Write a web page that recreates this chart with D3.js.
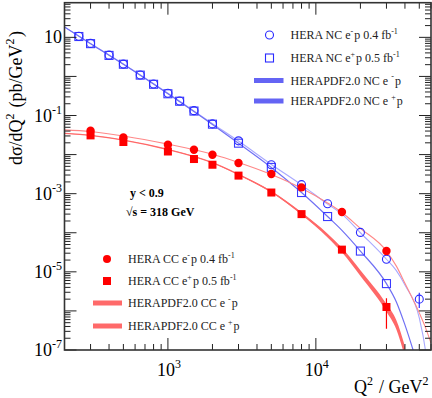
<!DOCTYPE html>
<html>
<head>
<meta charset="utf-8">
<script src="https://cdn.jsdelivr.net/npm/d3@7"></script>
<style>
  body { margin: 0; background: #fff; }
  svg { display: block; font-family: "Liberation Serif", "Times New Roman", serif; }
</style>
</head>
<body>
<div id="chart"></div>
<script>
// HERA NC / CC data
var ncEmQ2 = [250, 300, 400, 500, 650, 800, 1000, 1200, 1500, 2000, 3000, 5000, 8000, 12000, 20000, 30000, 50000];
var ncEmVal = [10.7, 7.0, 3.5, 2.07, 1.09, 0.64, 0.37, 0.236, 0.133, 0.061, 0.0225, 0.0055, 0.0017, 5.5e-4, 1.02e-4, 2.1e-5, 2.0e-6];
var ncEpQ2 = [250, 300, 400, 500, 650, 800, 1000, 1200, 1500, 2000, 3000, 5000, 8000, 12000, 20000, 30000];
var ncEpVal = [10.5, 6.9, 3.45, 2.05, 1.08, 0.63, 0.36, 0.232, 0.13, 0.06, 0.0196, 0.0047, 0.00107, 2.6e-4, 3.4e-5, 5.0e-6];
var ccQ2 = [300, 500, 1000, 1500, 2000, 3000, 5000, 8000, 15000, 30000];
var ccEmVal = [0.041, 0.0273, 0.0178, 0.0133, 0.0099, 0.0061, 0.0032, 0.00145, 3.4e-4, 3.4e-5];
var ccEpVal = [0.031, 0.021, 0.012, 0.0077, 0.0055, 0.0029, 0.00107, 3.0e-4, 3.7e-5, 1.26e-6];
// visible error bars (low, high)
var errBars = [
  {set: "ncEm", q2: 50000, lo: 1.19e-6, hi: 2.9e-6},
  {set: "ccEp", q2: 30000, lo: 3.5e-7, hi: 2.1e-6}
];

// HERAPDF2.0 predictions
var thQ2 = [200, 300, 500, 1000, 2000, 3000, 5000, 8000, 12000, 15000, 20000, 30000, 35000, 40000, 50000, 55000, 60000];
var thNcEm = [18.5, 7.0, 2.07, 0.37, 0.062, 0.0222, 0.0056, 0.00168, 5.4e-4, 3.0e-4, 1.0e-4, 2.1e-5, 1.07e-5, 4.6e-6, 6.6e-7, 1.0e-7, 5e-9];
var thNcEp = [18.3, 6.9, 2.04, 0.36, 0.059, 0.0196, 0.0047, 0.00107, 2.6e-4, 1.15e-4, 3.4e-5, 5.0e-6, 1.7e-6, 4.4e-7, 3e-8, null, null];
var thCcEm = [0.043, 0.039, 0.030, 0.0185, 0.0102, 0.0063, 0.0031, 0.00138, 5.8e-4, 3.3e-4, 1.3e-4, 3.4e-5, 1.4e-5, 5.1e-6, 8.9e-7, 3.8e-7, 1.5e-7];
var thCcEp = [0.035, 0.031, 0.0235, 0.0135, 0.0062, 0.0031, 0.00112, 3.1e-4, 8.5e-5, 3.6e-5, 9.3e-6, 1.2e-6, 4.4e-7, 9e-8, null, null, null];
// CC e+p band half width (log10)
var thCcEpErr = [0.004, 0.004, 0.004, 0.005, 0.008, 0.012, 0.02, 0.032, 0.048, 0.058, 0.075, 0.1, 0.12, 0.14, null, null, null];

var yLabelExp = [1, -1, -3, -5, -7];
var xLabelExp = [3, 4];

var width = 432, height = 398;
var pLeft = 64.5, pRight = 431, pTop = 2.7, pBottom = 350;

var svg = d3.select("#chart").append("svg")
  .attr("width", width)
  .attr("height", height);

var x = d3.scaleLog().domain([200, 60000]).range([pLeft, pRight]);
var y = d3.scaleLog().domain([1e-7, 77]).range([pBottom, pTop]);

svg.append("clipPath").attr("id", "plotclip")
  .append("rect").attr("x", pLeft).attr("y", pTop).attr("width", pRight - pLeft).attr("height", pBottom - pTop);

var plot = svg.append("g").attr("clip-path", "url(#plotclip)");

function zipTheory(vals, errs) {
  return thQ2.map(function(q, i) {
    return {q: q, v: vals[i], e: errs ? errs[i] : 0};
  });
}

var line = d3.line()
  .defined(function(d) { return d.v != null; })
  .x(function(d) { return x(d.q); })
  .y(function(d) { return y(d.v); })
  .curve(d3.curveMonotoneX);

var band = d3.area()
  .defined(function(d) { return d.v != null; })
  .x(function(d) { return x(d.q); })
  .y0(function(d) { return y(d.v / Math.pow(10, d.e)); })
  .y1(function(d) { return y(d.v * Math.pow(10, d.e)); })
  .curve(d3.curveMonotoneX);

// theory curves
plot.append("path").datum(zipTheory(thNcEm))
  .attr("fill", "none").attr("stroke", "#a8a8ff").attr("stroke-width", 1.1).attr("d", line);
plot.append("path").datum(zipTheory(thNcEp))
  .attr("fill", "none").attr("stroke", "#7070f4").attr("stroke-width", 1.2).attr("d", line);
plot.append("path").datum(zipTheory(thCcEm))
  .attr("fill", "none").attr("stroke", "#ff8888").attr("stroke-width", 1.1).attr("d", line);
plot.append("path").datum(zipTheory(thCcEp, thCcEpErr))
  .attr("fill", "#ff6868").attr("stroke", "none").attr("d", band);
plot.append("path").datum(zipTheory(thCcEp))
  .attr("fill", "none").attr("stroke", "#ff6868").attr("stroke-width", 1.3).attr("d", line);

// error bars
var sets = {
  ncEm: "#3030ff", ccEp: "#ff0000"
};
plot.selectAll(".err").data(errBars).enter().append("line")
  .attr("x1", function(d) { return x(d.q2); })
  .attr("x2", function(d) { return x(d.q2); })
  .attr("y1", function(d) { return y(d.lo); })
  .attr("y2", function(d) { return y(d.hi); })
  .attr("stroke", function(d) { return sets[d.set]; })
  .attr("stroke-width", 1.2);

// NC markers
plot.selectAll(".ncsq").data(ncEpQ2).enter().append("rect")
  .attr("x", function(d) { return x(d) - 4; })
  .attr("y", function(d, i) { return y(ncEpVal[i]) - 4; })
  .attr("width", 8).attr("height", 8)
  .attr("fill", "none").attr("stroke", "#3a3aff").attr("stroke-width", 1.1);
plot.selectAll(".nccirc").data(ncEmQ2).enter().append("circle")
  .attr("cx", function(d) { return x(d); })
  .attr("cy", function(d, i) { return y(ncEmVal[i]); })
  .attr("r", 4)
  .attr("fill", "none").attr("stroke", "#2a2aff").attr("stroke-width", 1.1);

// CC markers
plot.selectAll(".ccsq").data(ccQ2).enter().append("rect")
  .attr("x", function(d) { return x(d) - 4; })
  .attr("y", function(d, i) { return y(ccEpVal[i]) - 4; })
  .attr("width", 8).attr("height", 8)
  .attr("fill", "#ff0000");
plot.selectAll(".cccirc").data(ccQ2).enter().append("circle")
  .attr("cx", function(d) { return x(d); })
  .attr("cy", function(d, i) { return y(ccEmVal[i]); })
  .attr("r", 4.2)
  .attr("fill", "#ff0000");

// axes: frame + log ticks on all four sides
var axes = svg.append("g");
function logTicks(lo, hi) {
  var out = [];
  for (var e = Math.floor(Math.log10(lo)); e <= Math.ceil(Math.log10(hi)); e++) {
    for (var m = 1; m <= 9; m++) {
      var v = m * Math.pow(10, e);
      if (v >= lo * 0.999 && v <= hi * 1.001) out.push({v: v, major: m === 1});
    }
  }
  return out;
}
var xt = logTicks(200, 60000);
var yt = logTicks(1e-7, 77);

axes.selectAll(".xb").data(xt).enter().append("line")
  .attr("x1", function(d) { return x(d.v); }).attr("x2", function(d) { return x(d.v); })
  .attr("y1", pBottom).attr("y2", function(d) { return pBottom - (d.major ? 12 : 6); })
  .attr("stroke", "#222").attr("stroke-width", 1);
axes.selectAll(".xt").data(xt).enter().append("line")
  .attr("x1", function(d) { return x(d.v); }).attr("x2", function(d) { return x(d.v); })
  .attr("y1", pTop).attr("y2", function(d) { return pTop + (d.major ? 12 : 6); })
  .attr("stroke", "#222").attr("stroke-width", 1);
axes.selectAll(".yl").data(yt).enter().append("line")
  .attr("y1", function(d) { return y(d.v); }).attr("y2", function(d) { return y(d.v); })
  .attr("x1", pLeft).attr("x2", function(d) { return pLeft + (d.major ? 12 : 6); })
  .attr("stroke", "#222").attr("stroke-width", 1);
axes.selectAll(".yr").data(yt).enter().append("line")
  .attr("y1", function(d) { return y(d.v); }).attr("y2", function(d) { return y(d.v); })
  .attr("x1", pRight).attr("x2", function(d) { return pRight - (d.major ? 12 : 6); })
  .attr("stroke", "#222").attr("stroke-width", 1);

axes.append("rect")
  .attr("x", pLeft).attr("y", pTop).attr("width", pRight - pLeft).attr("height", pBottom - pTop)
  .attr("fill", "none").attr("stroke", "#333").attr("stroke-width", 1.6);

// tick labels
yLabelExp.forEach(function(e) {
  var t = axes.append("text")
    .attr("x", 62).attr("y", y(Math.pow(10, e)) + 6)
    .attr("text-anchor", "end")
    .attr("font-size", 18);
  t.append("tspan").text("10");
  if (e !== 1) {
    t.append("tspan").attr("font-size", 12).attr("dy", -8).text(String(e));
  }
});
xLabelExp.forEach(function(e) {
  var t = axes.append("text")
    .attr("x", x(Math.pow(10, e)) + 1).attr("y", 376)
    .attr("text-anchor", "middle")
    .attr("font-size", 18);
  t.append("tspan").text("10");
  t.append("tspan").attr("font-size", 12).attr("dy", -8).text(String(e));
});

// axis titles
function richText(g, parts, size, supSize) {
  parts.forEach(function(p) {
    if (p.sup) {
      g.append("tspan").attr("font-size", supSize).attr("dy", -size * 0.42).text(p.t);
      g.append("tspan").attr("font-size", size).attr("dy", size * 0.42).text("\u200A");
    } else {
      g.append("tspan").attr("font-size", size).text(p.t);
    }
  });
}
var xTitle = svg.append("text").attr("x", 430).attr("y", 393).attr("text-anchor", "end");
richText(xTitle, [{t: "Q"}, {t: "2", sup: true}, {t: " / GeV"}, {t: "2", sup: true}], 18, 12);

var yTitle = svg.append("text")
  .attr("transform", "translate(22,98) rotate(-90)")
  .attr("text-anchor", "middle");
richText(yTitle, [{t: "d\u03C3/dQ"}, {t: "2", sup: true}, {t: " (pb/GeV"}, {t: "2", sup: true}, {t: ")"}], 18, 12);

// kinematic text
svg.append("text").attr("x", 130).attr("y", 197).attr("font-size", 12).attr("font-weight", "bold").text("y < 0.9");
svg.append("text").attr("x", 126).attr("y", 216).attr("font-size", 12).attr("font-weight", "bold").text("\u221As = 318 GeV");

// legends
var ncLegend = [
  {kind: "circle", y: 35, parts: [{t: "HERA NC e"}, {t: "-", sup: true}, {t: "p 0.4 fb"}, {t: "-1", sup: true}]},
  {kind: "square", y: 58, parts: [{t: "HERA NC e"}, {t: "+", sup: true}, {t: "p 0.5 fb"}, {t: "-1", sup: true}]},
  {kind: "bar", y: 80.5, parts: [{t: "HERAPDF2.0 NC e "}, {t: "-", sup: true}, {t: "p"}]},
  {kind: "bar", y: 101, parts: [{t: "HERAPDF2.0 NC e "}, {t: "+", sup: true}, {t: "p"}]}
];
var ccLegend = [
  {kind: "circle", y: 259, parts: [{t: "HERA CC e"}, {t: "-", sup: true}, {t: "p 0.4 fb"}, {t: "-1", sup: true}]},
  {kind: "square", y: 281, parts: [{t: "HERA CC e"}, {t: "+", sup: true}, {t: "p 0.5 fb"}, {t: "-1", sup: true}]},
  {kind: "bar", y: 303, parts: [{t: "HERAPDF2.0 CC e "}, {t: "-", sup: true}, {t: "p"}]},
  {kind: "bar", y: 326, parts: [{t: "HERAPDF2.0 CC e "}, {t: "+", sup: true}, {t: "p"}]}
];

function drawLegend(items, mx, bx0, bx1, tx, col, barCol, filled) {
  items.forEach(function(it) {
    if (it.kind === "circle") {
      svg.append("circle").attr("cx", mx).attr("cy", it.y).attr("r", 4)
        .attr("fill", filled ? col : "none").attr("stroke", filled ? "none" : col).attr("stroke-width", 1.1);
    } else if (it.kind === "square") {
      svg.append("rect").attr("x", mx - 4).attr("y", it.y - 4).attr("width", 8).attr("height", 8)
        .attr("fill", filled ? col : "none").attr("stroke", filled ? "none" : col).attr("stroke-width", 1.1);
    } else {
      svg.append("rect").attr("x", bx0).attr("y", it.y - 2.5).attr("width", bx1 - bx0).attr("height", 5)
        .attr("fill", barCol);
    }
    var t = svg.append("text").attr("x", tx).attr("y", it.y + 4).attr("fill", "#222");
    richText(t, it.parts, 12, 8);
  });
}
drawLegend(ncLegend, 269.5, 254, 283.5, 290.5, "#2a2aff", "#6464f4", false);
drawLegend(ccLegend, 107, 93, 122, 128, "#ff0000", "#ff6a6a", true);
</script>
</body>
</html>
